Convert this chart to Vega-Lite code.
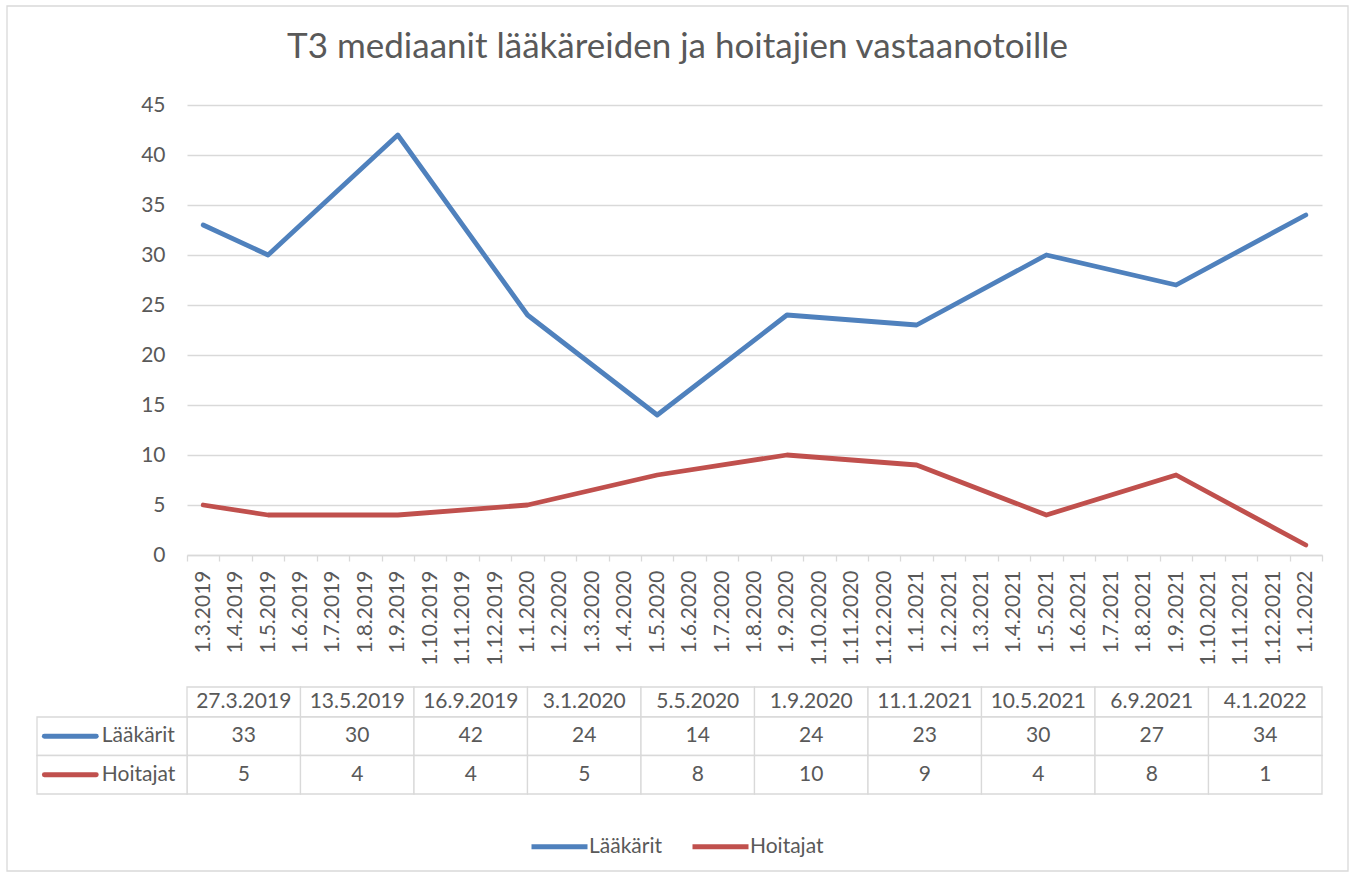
{
  "$schema": "https://vega.github.io/schema/vega-lite/v6.json",
  "width": 1135,
  "height": 450,
  "autosize": {"type": "none"},
  "padding": {"left": 187, "top": 105, "right": 34, "bottom": 324},
  "background": "white",
  "config": {"font": "Lato", "view": {"stroke": null}},
  "title": {
    "text": "T3 mediaanit lääkäreiden ja hoitajien vastaanotoille",
    "frame": "bounds",
    "anchor": "middle",
    "offset": -88,
    "baseline": "alphabetic",
    "fontSize": 35,
    "fontWeight": "normal",
    "font": "Lato",
    "color": "#595959"
  },
  "datasets": {
    "t3": [
      {"month": "1.3.2019", "date": "27.3.2019", "series": "Lääkärit", "value": 33},
      {"month": "1.5.2019", "date": "13.5.2019", "series": "Lääkärit", "value": 30},
      {"month": "1.9.2019", "date": "16.9.2019", "series": "Lääkärit", "value": 42},
      {"month": "1.1.2020", "date": "3.1.2020", "series": "Lääkärit", "value": 24},
      {"month": "1.5.2020", "date": "5.5.2020", "series": "Lääkärit", "value": 14},
      {"month": "1.9.2020", "date": "1.9.2020", "series": "Lääkärit", "value": 24},
      {"month": "1.1.2021", "date": "11.1.2021", "series": "Lääkärit", "value": 23},
      {"month": "1.5.2021", "date": "10.5.2021", "series": "Lääkärit", "value": 30},
      {"month": "1.9.2021", "date": "6.9.2021", "series": "Lääkärit", "value": 27},
      {"month": "1.1.2022", "date": "4.1.2022", "series": "Lääkärit", "value": 34},
      {"month": "1.3.2019", "date": "27.3.2019", "series": "Hoitajat", "value": 5},
      {"month": "1.5.2019", "date": "13.5.2019", "series": "Hoitajat", "value": 4},
      {"month": "1.9.2019", "date": "16.9.2019", "series": "Hoitajat", "value": 4},
      {"month": "1.1.2020", "date": "3.1.2020", "series": "Hoitajat", "value": 5},
      {"month": "1.5.2020", "date": "5.5.2020", "series": "Hoitajat", "value": 8},
      {"month": "1.9.2020", "date": "1.9.2020", "series": "Hoitajat", "value": 10},
      {"month": "1.1.2021", "date": "11.1.2021", "series": "Hoitajat", "value": 9},
      {"month": "1.5.2021", "date": "10.5.2021", "series": "Hoitajat", "value": 4},
      {"month": "1.9.2021", "date": "6.9.2021", "series": "Hoitajat", "value": 8},
      {"month": "1.1.2022", "date": "4.1.2022", "series": "Hoitajat", "value": 1}
    ],
    "frame": [{"frame": "frame"}]
  },
  "layer": [
    {
      "data": {"name": "frame"},
      "mark": {"type": "rect", "filled": false, "stroke": "#d9d9d9", "strokeWidth": 1.3},
      "encoding": {
        "x": {"field": "frame", "type": "nominal", "scale": {"type": "band", "domain": ["frame"], "range": [-180, 1161], "paddingInner": 0, "paddingOuter": 0}, "axis": null},
        "y": {"field": "frame", "type": "nominal", "scale": {"type": "band", "domain": ["frame"], "range": [-99, 766], "paddingInner": 0, "paddingOuter": 0}, "axis": null}
      }
    },
    {
      "data": {"name": "t3"},
      "mark": {"type": "line", "strokeWidth": 4.8, "strokeJoin": "round", "strokeCap": "round"},
      "encoding": {
        "x": {
          "field": "month",
          "type": "ordinal",
          "sort": ["1.3.2019","1.4.2019","1.5.2019","1.6.2019","1.7.2019","1.8.2019","1.9.2019","1.10.2019","1.11.2019","1.12.2019","1.1.2020","1.2.2020","1.3.2020","1.4.2020","1.5.2020","1.6.2020","1.7.2020","1.8.2020","1.9.2020","1.10.2020","1.11.2020","1.12.2020","1.1.2021","1.2.2021","1.3.2021","1.4.2021","1.5.2021","1.6.2021","1.7.2021","1.8.2021","1.9.2021","1.10.2021","1.11.2021","1.12.2021","1.1.2022"],
          "scale": {
            "type": "band",
            "domain": ["1.3.2019","1.4.2019","1.5.2019","1.6.2019","1.7.2019","1.8.2019","1.9.2019","1.10.2019","1.11.2019","1.12.2019","1.1.2020","1.2.2020","1.3.2020","1.4.2020","1.5.2020","1.6.2020","1.7.2020","1.8.2020","1.9.2020","1.10.2020","1.11.2020","1.12.2020","1.1.2021","1.2.2021","1.3.2021","1.4.2021","1.5.2021","1.6.2021","1.7.2021","1.8.2021","1.9.2021","1.10.2021","1.11.2021","1.12.2021","1.1.2022"],
            "paddingInner": 0,
            "paddingOuter": 0
          },
          "axis": {
            "title": null,
            "labelAngle": 270,
            "labelAlign": "right",
            "labelBaseline": "middle",
            "labelFont": "Lato",
            "labelFontSize": 21,
            "labelColor": "#595959",
            "labelPadding": 9,
            "labelOverlap": false,
            "tickBand": "extent",
            "tickSize": 6,
            "tickColor": "#d9d9d9",
            "tickWidth": 1.3,
            "domainColor": "#d9d9d9",
            "domainWidth": 1.3,
            "grid": false
          }
        },
        "y": {
          "field": "value",
          "type": "quantitative",
          "scale": {"domain": [0, 45], "nice": false, "zero": true},
          "axis": {
            "title": null,
            "values": [0, 5, 10, 15, 20, 25, 30, 35, 40, 45],
            "grid": true,
            "gridColor": "#d9d9d9",
            "gridWidth": 1.3,
            "domain": false,
            "ticks": false,
            "tickSize": 0,
            "labelPadding": 22,
            "labelFont": "Lato",
            "labelFontSize": 21,
            "labelColor": "#595959"
          }
        },
        "color": {
          "field": "series",
          "type": "nominal",
          "scale": {"domain": ["Lääkärit", "Hoitajat"], "range": ["#4f81bd", "#c0504d"]},
          "legend": {
            "title": null,
            "orient": "none",
            "legendX": 342,
            "legendY": 711,
            "direction": "horizontal",
            "symbolType": "stroke",
            "symbolSize": 3136,
            "symbolStrokeWidth": 4.8,
            "labelFont": "Lato",
            "labelFontSize": 21,
            "labelColor": "#595959",
            "labelOffset": -1,
            "columnPadding": 20,
            "padding": 0
          }
        }
      }
    },
    {
      "data": {"name": "t3"},
      "transform": [{"filter": "datum.series === 'Lääkärit'"}],
      "encoding": {
        "x": {"field": "date", "type": "ordinal", "scale": {"type": "band", "domain": ["27.3.2019","13.5.2019","16.9.2019","3.1.2020","5.5.2020","1.9.2020","11.1.2021","10.5.2021","6.9.2021","4.1.2022"], "range": [0, 1135], "paddingInner": 0, "paddingOuter": 0}, "axis": null},
        "y": {"field": "series", "type": "nominal", "scale": {"type": "band", "domain": ["Lääkärit"], "range": [582, 612], "paddingInner": 0, "paddingOuter": 0}, "axis": null}
      },
      "layer": [
        {"mark": {"type": "rect", "fill": "white", "stroke": "#d9d9d9", "strokeWidth": 1.3}},
        {"mark": {"type": "text", "font": "Lato", "fontSize": 21, "color": "#595959", "baseline": "middle"}, "encoding": {"text": {"field": "date", "type": "nominal"}}}
      ]
    },
    {
      "data": {"name": "t3"},
      "encoding": {
        "x": {"field": "date", "type": "ordinal", "scale": {"type": "band", "domain": ["27.3.2019","13.5.2019","16.9.2019","3.1.2020","5.5.2020","1.9.2020","11.1.2021","10.5.2021","6.9.2021","4.1.2022"], "range": [0, 1135], "paddingInner": 0, "paddingOuter": 0}, "axis": null},
        "y": {"field": "series", "type": "nominal", "scale": {"type": "band", "domain": ["Lääkärit", "Hoitajat"], "range": [612, 689], "paddingInner": 0, "paddingOuter": 0}, "axis": null}
      },
      "layer": [
        {"mark": {"type": "rect", "fill": "white", "stroke": "#d9d9d9", "strokeWidth": 1.3}},
        {"mark": {"type": "text", "font": "Lato", "fontSize": 21, "color": "#595959", "baseline": "middle"}, "encoding": {"text": {"field": "value", "type": "quantitative"}}}
      ]
    },
    {
      "data": {"name": "t3"},
      "transform": [{"aggregate": [{"op": "count", "as": "n"}], "groupby": ["series"]}],
      "encoding": {
        "x": {"datum": "lab", "type": "nominal", "scale": {"type": "band", "domain": ["lab"], "range": [-150, 0], "paddingInner": 0, "paddingOuter": 0}, "axis": null},
        "y": {"field": "series", "type": "nominal", "scale": {"type": "band", "domain": ["Lääkärit", "Hoitajat"], "range": [612, 689], "paddingInner": 0, "paddingOuter": 0}, "axis": null}
      },
      "layer": [
        {"mark": {"type": "rect", "fill": "white", "stroke": "#d9d9d9", "strokeWidth": 1.3}},
        {
          "mark": {"type": "point", "shape": "stroke", "size": 2704, "strokeWidth": 4.8, "strokeCap": "round", "filled": false, "opacity": 1},
          "encoding": {
            "x": {"datum": "lab", "type": "nominal", "bandPosition": 0.222},
            "stroke": {"field": "series", "type": "nominal", "scale": {"domain": ["Lääkärit", "Hoitajat"], "range": ["#4f81bd", "#c0504d"]}, "legend": null}
          }
        },
        {
          "mark": {"type": "text", "font": "Lato", "fontSize": 21, "color": "#595959", "align": "left", "baseline": "middle"},
          "encoding": {
            "x": {"datum": "lab", "type": "nominal", "bandPosition": 0.432},
            "text": {"field": "series", "type": "nominal"}
          }
        }
      ]
    }
  ],
  "resolve": {
    "scale": {"x": "independent", "y": "independent", "color": "independent", "stroke": "independent"},
    "axis": {"x": "independent", "y": "independent"},
    "legend": {"color": "independent", "stroke": "independent"}
  }
}
